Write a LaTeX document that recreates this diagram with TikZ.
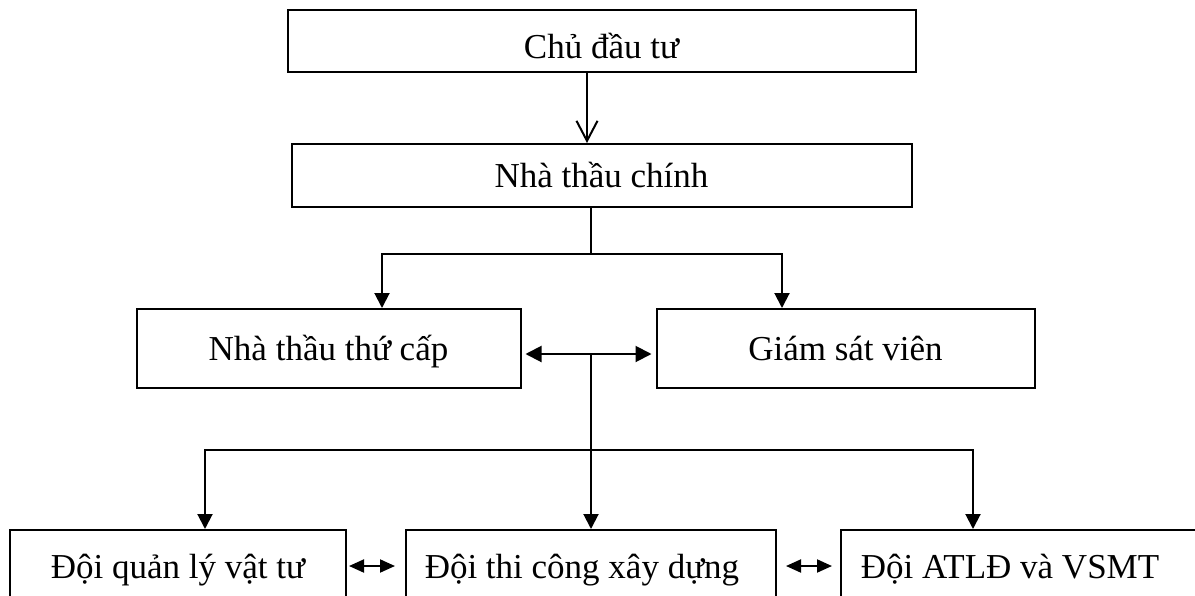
\documentclass[tikz,border=0pt]{standalone}
\usepackage{fontspec}
\setmainfont{Liberation Serif}
\usetikzlibrary{arrows.meta,calc}

\begin{document}
\begin{tikzpicture}[x=0.5pt,y=-0.5pt,
    box/.style={draw, line width=1pt, inner sep=0pt, text height=16pt, text depth=4pt,
      font=\fontsize{17.5}{21}\selectfont},
    link/.style={line width=1pt},
    down/.style={link, -{Triangle[length=7.5pt,width=7.5pt]}},
    both/.style={link, {Triangle[length=8pt,width=8pt]}-{Triangle[length=8pt,width=8pt]}},
    bothsm/.style={link, {Triangle[length=7.5pt,width=6.5pt]}-{Triangle[length=7.5pt,width=6.5pt]}}]
    \useasboundingbox (0,0) rectangle (1195,595);
    \clip (0,0) rectangle (1195,595);
    % top two levels
    \node[box, minimum width=314pt, minimum height=31pt, text height=21pt] (chu) at (601.5,41) {Chủ đầu tư};
    \node[box, minimum width=310pt, minimum height=31.5pt] (chinh) at (601.5,175.5) {Nhà thầu chính};
    % second level
    \node[box, minimum width=192pt, minimum height=39.5pt] (thucap) at (328.5,348.5) {Nhà thầu thứ cấp};
    \node[box, minimum width=189pt, minimum height=39.5pt] (giamsat) at (845.5,348.5) {Giám sát viên};
    % teams (bottom edge runs off the page)
    \node[box, minimum width=168pt, minimum height=36pt] (vattu) at (178,566) {Đội quản lý vật tư};
    \node[box, minimum width=185pt, minimum height=36pt] (thicong) at (591,566) {\hspace*{-9pt}Đội thi công xây dựng};
    \node[box, minimum width=187pt, minimum height=36pt] (atld) at (1028,566) {\hspace*{-18pt}Đội ATLĐ và VSMT};
    % branch points
    \coordinate (c0) at (587,0);
    \coordinate (j1) at (591,254);
    \coordinate (j2) at (591,450);
    \coordinate (l1) at (382,0);
    \coordinate (r1) at (782,0);
    \coordinate (l2) at (205,0);
    \coordinate (r2) at (973,0);
    % owner -> main contractor
    \draw[link, -{Straight Barb[length=10pt,width=10.5pt]}] (chu.south -| c0) -- (chinh.north -| c0);
    % main contractor -> sub contractor / supervisor
    \draw[link] (chinh.south -| j1) -- (j1);
    \draw[down] (j1) -| (thucap.north -| l1);
    \draw[down] (j1) -| (giamsat.north -| r1);
    \draw[both] ($(thucap.east)+(4,5.5)$) -- ($(giamsat.west)+(-4,5.5)$);
    % down to the teams
    \draw[link] ($(j1 |- thucap.east)+(0,5.5)$) -- (j2);
    \draw[down] (j2) -| (vattu.north -| l2);
    \draw[down] (j2) -- (thicong.north);
    \draw[down] (j2) -| (atld.north -| r2);
    \draw[bothsm] ($(vattu.east)+(2,0)$) -- ($(thicong.west)+(-10,0)$);
    \draw[bothsm] ($(thicong.east)+(9,0)$) -- ($(atld.west)+(-8,0)$);
\end{tikzpicture}
\end{document}
